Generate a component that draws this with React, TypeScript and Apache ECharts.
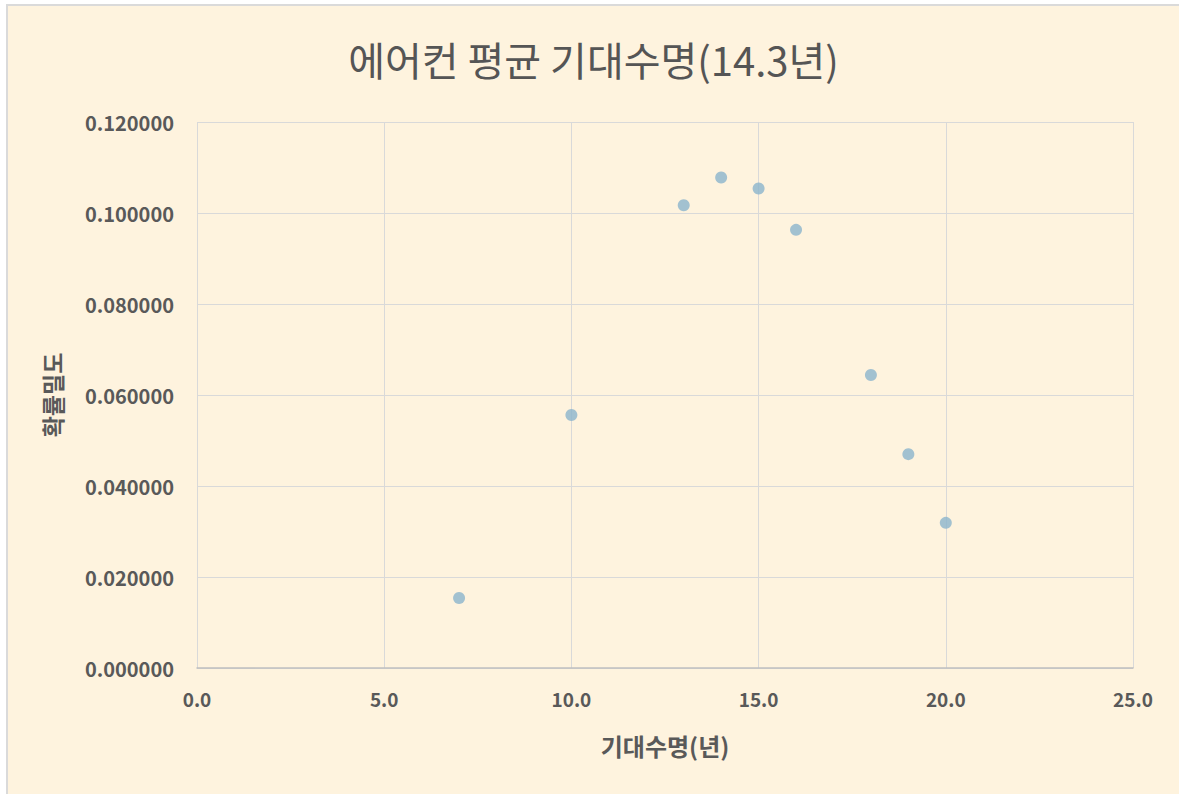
import React, { useEffect, useRef } from "react";
import * as echarts from "echarts";

const lifeYears = [7, 10, 13, 14, 15, 16, 18, 19, 20];
const density = [0.0154, 0.0556, 0.1017, 0.1078, 0.1054, 0.0963, 0.0644, 0.047, 0.0319];
const titleText = "에어컨 평균 기대수명(14.3년)";
const xName = "기대수명(년)";
const yName = "확률밀도";

const FONT = "'Noto Sans CJK KR', 'Noto Sans', sans-serif";

export default function App() {
  const ref = useRef<HTMLDivElement>(null);
  useEffect(() => {
    const chart = echarts.init(ref.current!, null, { renderer: "svg" });
    chart.setOption({
      animation: false,
      backgroundColor: "#FEF3DE",
      title: {
        text: titleText,
        left: "center",
        top: 28,
        textStyle: { fontFamily: FONT, fontSize: 40, fontWeight: "normal", color: "#555555" },
      },
      grid: { left: 189, right: 46, top: 116, bottom: 126, containLabel: false },
      xAxis: {
        type: "value",
        min: 0,
        max: 25,
        interval: 5,
        name: xName,
        nameLocation: "middle",
        nameGap: 65,
        nameTextStyle: { fontFamily: FONT, fontSize: 24, fontWeight: "bold", color: "#595959" },
        axisLine: { show: true, lineStyle: { color: "#BFBFBF", width: 1.5 } },
        axisTick: { show: false },
        axisLabel: {
          fontFamily: FONT,
          fontSize: 19,
          fontWeight: "bold",
          color: "#595959",
          margin: 21,
          formatter: (v: number) => v.toFixed(1),
        },
        splitLine: { show: true, lineStyle: { color: "#D9D9D9", width: 1 } },
      },
      yAxis: {
        type: "value",
        min: 0,
        max: 0.12,
        interval: 0.02,
        name: yName,
        nameLocation: "middle",
        nameGap: 134,
        nameRotate: 90,
        nameTextStyle: { fontFamily: FONT, fontSize: 23, fontWeight: "bold", color: "#595959" },
        axisLine: { show: false },
        axisTick: { show: false },
        axisLabel: {
          fontFamily: FONT,
          fontSize: 20,
          fontWeight: "bold",
          color: "#595959",
          margin: 23,
          formatter: (v: number) => v.toFixed(6),
        },
        splitLine: { show: true, lineStyle: { color: "#D9D9D9", width: 1 } },
      },
      series: [
        {
          type: "scatter",
          data: lifeYears.map((x, i) => [x, density[i]]),
          symbol: "circle",
          symbolSize: 12,
          itemStyle: { color: "#8BB4CC" },
        },
      ],
    });
    return () => chart.dispose();
  }, []);
  return (
    <div style={{ position: "fixed", left: 0, top: 0, width: 1179, height: 794, background: "#FFFFFF" }}>
      <div
        style={{
          position: "absolute",
          left: 6,
          top: 4,
          width: 1173,
          height: 790,
          borderLeft: "2px solid #DADADA",
          borderTop: "2px solid #DADADA",
          boxSizing: "border-box",
        }}
      >
        <div ref={ref} style={{ width: 1171, height: 788 }} />
      </div>
    </div>
  );
}
